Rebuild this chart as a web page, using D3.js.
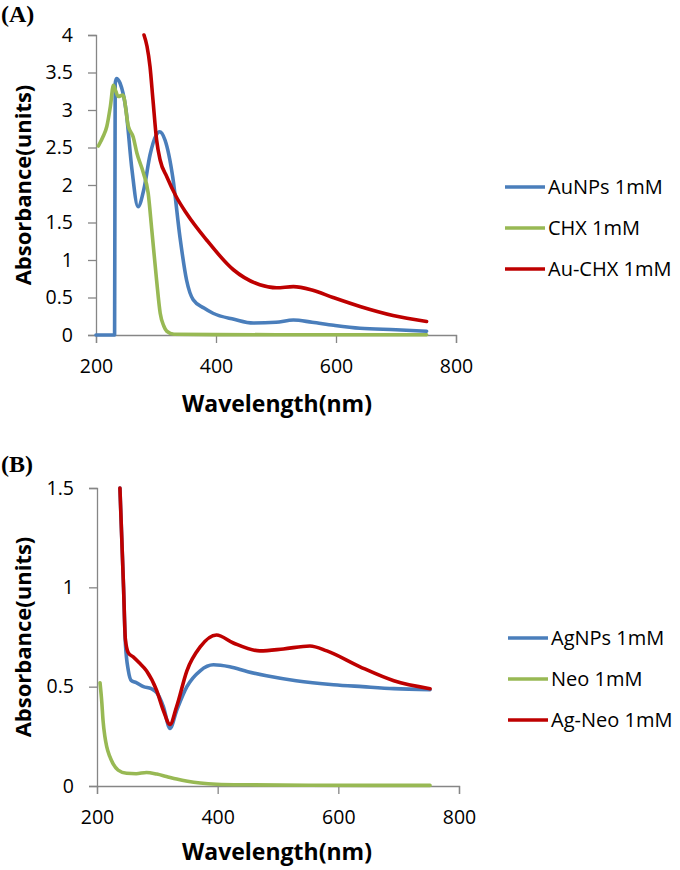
<!DOCTYPE html>
<html>
<head>
<meta charset="utf-8">
<script src="https://cdn.jsdelivr.net/npm/d3@7"></script>
<style>
html,body{margin:0;padding:0;background:#fff;}
svg{display:block;}
</style>
</head>
<body>
<svg id="chart" width="680" height="870"></svg>
<script>
// ---------- Panel A data (wavelength nm, absorbance) ----------
const aunpsWl  = [200, 231, 232, 234, 240, 250, 260, 270, 280, 290, 300, 306, 315, 328, 340, 351, 362, 380, 395, 430, 462, 500, 529, 560, 596, 640, 700, 751];
const aunpsAbs = [0, 0, 3.35, 3.42, 3.36, 3.0, 2.2, 1.71, 1.95, 2.4, 2.66, 2.71, 2.6, 2.1, 1.3, 0.73, 0.47, 0.36, 0.29, 0.21, 0.16, 0.17, 0.2, 0.17, 0.13, 0.09, 0.07, 0.05];

const chxWl  = [204, 212, 218, 224, 229, 233, 237, 245, 254, 262, 268, 279, 287, 293, 301, 307, 313, 318, 330, 400, 500, 600, 751];
const chxAbs = [2.52, 2.65, 2.78, 3.05, 3.33, 3.25, 3.18, 3.2, 2.78, 2.64, 2.43, 2.16, 1.89, 1.4, 0.73, 0.29, 0.12, 0.05, 0.01, 0.005, 0.004, 0.004, 0.004];

const auchxWl  = [280, 285, 290, 295, 301, 307, 318, 334, 351, 384, 429, 473, 501, 529, 560, 595, 640, 695, 751];
const auchxAbs = [4.0, 3.85, 3.58, 3.13, 2.6, 2.33, 2.11, 1.84, 1.62, 1.27, 0.87, 0.67, 0.63, 0.645, 0.6, 0.5, 0.38, 0.26, 0.18];

// ---------- Panel B data ----------
const agnpsWl  = [238, 241, 244, 247, 252, 257, 265, 277, 290, 299, 310, 321, 332, 349, 371, 393, 420, 450, 481, 530, 592, 640, 692, 752];
const agnpsAbs = [1.5, 1.25, 1.0, 0.72, 0.58, 0.53, 0.52, 0.5, 0.49, 0.47, 0.4, 0.29, 0.38, 0.5, 0.58, 0.61, 0.6, 0.575, 0.555, 0.53, 0.51, 0.5, 0.49, 0.485];

const neoWl  = [205, 208, 210, 213, 216, 221, 227, 235, 249, 265, 282, 299, 315, 332, 350, 371, 398, 450, 550, 650, 752];
const neoAbs = [0.52, 0.42, 0.33, 0.25, 0.2, 0.15, 0.11, 0.08, 0.064, 0.062, 0.068, 0.06, 0.048, 0.035, 0.024, 0.015, 0.009, 0.006, 0.004, 0.003, 0.003];

const agneoWl  = [238, 241, 244, 247, 252, 260, 270, 282, 299, 310, 321, 332, 349, 371, 398, 426, 470, 509, 553, 581, 636, 692, 752];
const agneoAbs = [1.5, 1.25, 1.0, 0.74, 0.67, 0.65, 0.62, 0.58, 0.48, 0.38, 0.31, 0.40, 0.58, 0.70, 0.76, 0.72, 0.68, 0.69, 0.705, 0.68, 0.60, 0.53, 0.49];

const xTicks  = [200, 400, 600, 800];
const yTicksA = [0, 0.5, 1, 1.5, 2, 2.5, 3, 3.5, 4];
const yTicksB = [0, 0.5, 1, 1.5];

const namesA = ["AuNPs 1mM", "CHX 1mM", "Au-CHX 1mM"];
const namesB = ["AgNPs 1mM", "Neo 1mM", "Ag-Neo 1mM"];
const colors = ["#4a7ebb", "#98b954", "#be0000"];

const svg = d3.select("#chart");
const FONT = "'Open Sans', Lato, sans-serif";

function panel(cfg) {
  const x = d3.scaleLinear().domain([200, 800]).range([cfg.x0, cfg.x1]);
  const y = d3.scaleLinear().domain([0, cfg.ymax]).range([cfg.y0, cfg.y1]);
  const g = svg.append("g");

  // axes
  const xa = g.append("g").attr("transform", `translate(0,${cfg.y0})`)
    .call(d3.axisBottom(x).tickValues(xTicks).tickSize(8).tickPadding(16).tickFormat(d3.format("d")));
  const ya = g.append("g").attr("transform", `translate(${cfg.x0},0)`)
    .call(d3.axisLeft(y).tickValues(cfg.yTicks).tickSize(8).tickPadding(15).tickFormat(d => d3.format("~g")(d)));
  [xa, ya].forEach(a => {
    a.select(".domain").attr("stroke", "#868686").attr("stroke-width", 1.3);
    a.selectAll(".tick line").attr("stroke", "#868686").attr("stroke-width", 1.3);
    a.selectAll("text").attr("font-family", FONT).attr("font-size", 19.5).attr("fill", "#000");
  });

  const line = d3.line().x(d => x(d[0])).y(d => y(d[1])).curve(d3.curveMonotoneX);
  cfg.series.forEach((s, i) => {
    const pts = s.wl.map((w, k) => [w, s.abs[k]]);
    g.append("path").datum(pts).attr("d", line)
      .attr("fill", "none").attr("stroke", colors[i]).attr("stroke-width", 3.6)
      .attr("stroke-linejoin", "round").attr("stroke-linecap", "round");
  });

  // axis titles
  g.append("text").attr("x", 277).attr("y", cfg.xTitleY)
    .attr("text-anchor", "middle").attr("font-family", FONT).attr("font-weight", "bold")
    .attr("font-size", 23).text("Wavelength(nm)");
  g.append("text").attr("transform", `translate(31,${(cfg.y0 + cfg.y1) / 2}) rotate(-90)`)
    .attr("text-anchor", "middle").attr("font-family", FONT).attr("font-weight", "bold")
    .attr("font-size", 22).text("Absorbance(units)");

  // panel label
  g.append("text").attr("x", 1).attr("y", cfg.labelY)
    .attr("font-family", "'Liberation Serif', 'DejaVu Serif', serif").attr("font-weight", "bold")
    .attr("font-size", 24).text(cfg.label);

  // legend
  cfg.names.forEach((n, i) => {
    const ly = cfg.legY + i * cfg.legGap;
    g.append("line").attr("x1", cfg.legX).attr("x2", cfg.legX + 40).attr("y1", ly).attr("y2", ly)
      .attr("stroke", colors[i]).attr("stroke-width", 3.6);
    g.append("text").attr("x", cfg.legX + 43).attr("y", ly).attr("dy", "0.36em")
      .attr("font-family", FONT).attr("font-size", 20).text(n);
  });
}

panel({
  x0: 96, x1: 456, y0: 335, y1: 35, ymax: 4, yTicks: yTicksA,
  series: [{wl: aunpsWl, abs: aunpsAbs}, {wl: chxWl, abs: chxAbs}, {wl: auchxWl, abs: auchxAbs}],
  names: namesA, legX: 505, legY: 187, legGap: 41, xTitleY: 412, labelY: 22, label: "(A)"
});

panel({
  x0: 97, x1: 459, y0: 786, y1: 488, ymax: 1.5, yTicks: yTicksB,
  series: [{wl: agnpsWl, abs: agnpsAbs}, {wl: neoWl, abs: neoAbs}, {wl: agneoWl, abs: agneoAbs}],
  names: namesB, legX: 508, legY: 638, legGap: 41, xTitleY: 860, labelY: 472, label: "(B)"
});
</script>
</body>
</html>
